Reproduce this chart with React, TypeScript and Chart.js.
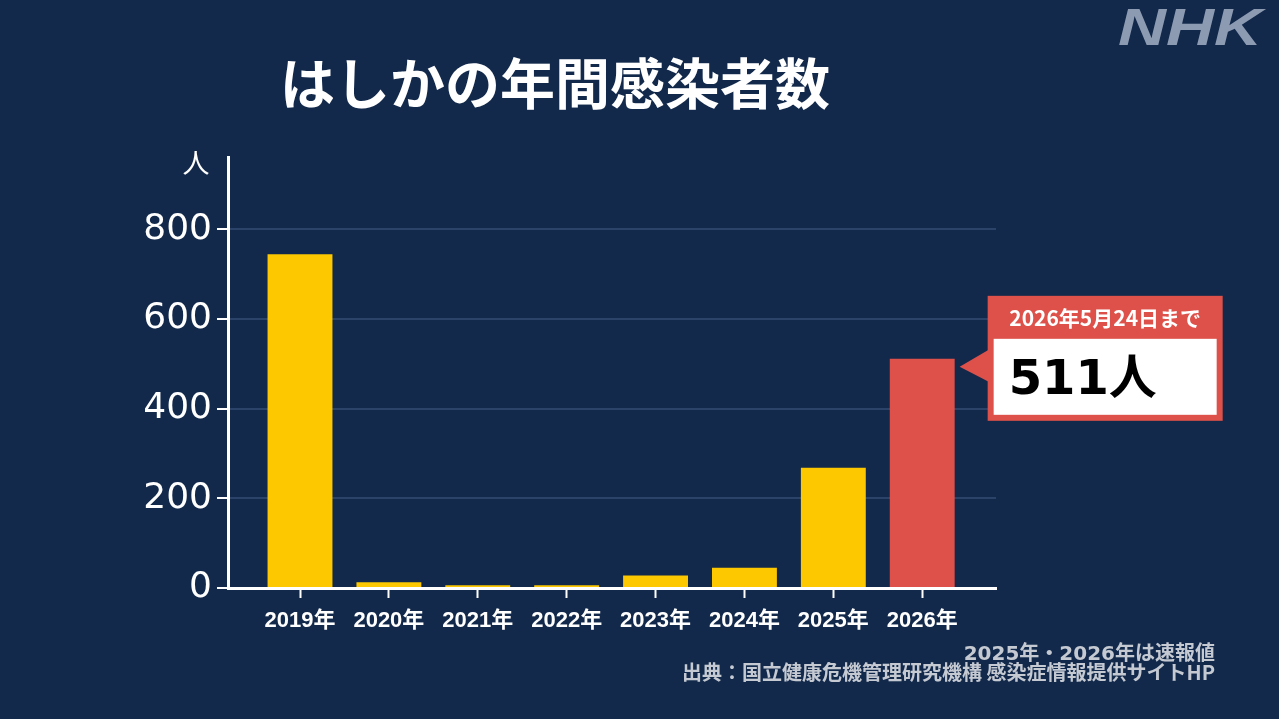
import React, { useEffect, useRef } from 'react';
import { Chart, registerables } from 'chart.js';

Chart.register(...registerables);

// ---- data ----
const categories = ['2019年', '2020年', '2021年', '2022年', '2023年', '2024年', '2025年', '2026年'];
const cases = [744, 13, 6, 6, 28, 45, 268, 511];
const yTickValues = [0, 200, 400, 600, 800];
const titleText = 'はしかの年間感染者数';
const unitLabel = '人';
const calloutHeader = '2026年5月24日まで';
const noteLines = ['2025年・2026年は速報値', '出典：国立健康危機管理研究機構 感染症情報提供サイトHP'];
const brandText = 'NHK';

// ---- style ----
const BG = '#12294b';
const YELLOW = '#fec800';
const RED = '#de514a';
const GRID = '#2b4368';
const W = 1279;
const H = 719;
const JP = '"Noto Sans CJK JP", sans-serif';
const NUM = '"DejaVu Sans", "Noto Sans CJK JP", sans-serif';
const LAB = '"Liberation Sans", "Noto Sans CJK JP", sans-serif';

const decorPlugin = {
  id: 'decor',
  beforeDraw(chart: any) {
    const ctx = chart.ctx;
    ctx.save();
    ctx.fillStyle = BG;
    ctx.fillRect(0, 0, chart.width, chart.height);
    ctx.restore();
  },
  afterDraw(chart: any) {
    const ctx = chart.ctx;
    const area = chart.chartArea;
    ctx.save();

    // title
    ctx.fillStyle = '#ffffff';
    ctx.font = `bold 55px ${JP}`;
    ctx.textAlign = 'left';
    ctx.textBaseline = 'middle';
    ctx.fillText(titleText, 280, 83);

    // brand
    ctx.save();
    ctx.font = 'italic bold 52px "Liberation Sans", sans-serif';
    const bw = ctx.measureText(brandText).width;
    ctx.translate(1118, 31);
    ctx.scale(144 / bw, 1);
    ctx.fillStyle = '#8d9bb2';
    ctx.textBaseline = 'middle';
    ctx.fillText(brandText, 0, 0);
    ctx.restore();

    // unit label
    ctx.fillStyle = '#ffffff';
    ctx.font = `27px ${JP}`;
    ctx.textAlign = 'center';
    ctx.textBaseline = 'middle';
    ctx.fillText(unitLabel, area.left - 32, 163);

    // notes
    ctx.fillStyle = '#c4c9d2';
    ctx.font = `bold 20px ${NUM}`;
    ctx.textAlign = 'right';
    ctx.textBaseline = 'middle';
    ctx.fillText(noteLines[0], 1215, 655);
    ctx.font = `bold 20px ${JP}`;
    ctx.fillText(noteLines[1], 1215, 672);

    // callout anchored to the last bar
    const meta = chart.getDatasetMeta(0);
    const last = meta.data[meta.data.length - 1];
    if (last) {
      const tipX = last.x + last.width / 2 + 5;
      const tipY = last.y + 8;
      const left = tipX + 28;
      const top = tipY - 71;
      const bw2 = 235;
      const bh = 125;
      ctx.fillStyle = RED;
      ctx.fillRect(left, top, bw2, bh);
      ctx.beginPath();
      ctx.moveTo(tipX, tipY);
      ctx.lineTo(left + 1, tipY - 17);
      ctx.lineTo(left + 1, tipY + 15);
      ctx.closePath();
      ctx.fill();
      ctx.fillStyle = '#ffffff';
      ctx.fillRect(left + 6, top + 43, bw2 - 12, bh - 49);
      ctx.font = `bold 21px ${JP}`;
      ctx.textAlign = 'center';
      ctx.textBaseline = 'middle';
      ctx.fillText(calloutHeader, left + bw2 / 2, top + 22);
      ctx.fillStyle = '#000000';
      ctx.font = `bold 48px ${NUM}`;
      ctx.textAlign = 'left';
      ctx.textBaseline = 'alphabetic';
      ctx.fillText(`${cases[cases.length - 1]}${unitLabel}`, left + 21, top + 98);
    }
    ctx.restore();
  },
};

export default function App() {
  const ref = useRef<HTMLCanvasElement | null>(null);

  useEffect(() => {
    document.body.style.margin = '0';
    document.body.style.background = BG;
    if (!ref.current) return;
    const chart = new Chart(ref.current, {
      type: 'bar',
      data: {
        datasets: [
          {
            data: cases.map((v, i) => ({ x: i, y: v })),
            backgroundColor: cases.map((_, i) => (i === cases.length - 1 ? RED : YELLOW)),
            borderWidth: 0,
            categoryPercentage: 1,
            barPercentage: 0.73,
          },
        ],
      },
      options: {
        responsive: false,
        animation: false,
        layout: { padding: { left: 0, top: 157, right: 283, bottom: 0 } },
        plugins: {
          legend: { display: false },
          tooltip: { enabled: false },
          title: { display: false },
        },
        scales: {
          x: {
            type: 'linear',
            offset: false,
            min: -0.81,
            max: 7.83,
            afterBuildTicks: (scale: any) => {
              scale.ticks = categories.map((_, i) => ({ value: i }));
            },
            afterFit: (scale: any) => {
              scale.height = H - 588;
            },
            ticks: {
              color: '#ffffff',
              font: { family: LAB, size: 22, weight: 'bold' },
              padding: 10,
              maxRotation: 0,
              autoSkip: false,
              callback: (v: any) => categories[Number(v)] ?? '',
            },
            grid: {
              display: true,
              offset: false,
              drawOnChartArea: false,
              drawTicks: true,
              tickLength: 10,
              tickColor: '#ffffff',
              tickWidth: 2,
            },
            border: { display: true, color: '#ffffff', width: 3 },
          },
          y: {
            min: 0,
            max: 961,
            afterBuildTicks: (scale: any) => {
              scale.ticks = yTickValues.map((v) => ({ value: v }));
            },
            afterFit: (scale: any) => {
              scale.width = 228;
            },
            ticks: {
              color: '#ffffff',
              font: { family: NUM, size: 36 },
              padding: 5,
            },
            grid: {
              color: GRID,
              lineWidth: 2,
              drawTicks: true,
              tickLength: 11,
              tickColor: '#ffffff',
              tickWidth: 2,
            },
            border: { display: true, color: '#ffffff', width: 3 },
          },
        },
      },
      plugins: [decorPlugin],
    } as any);
    return () => chart.destroy();
  }, []);

  return (
    <div style={{ width: W, height: H, background: BG }}>
      <canvas ref={ref} width={W} height={H} style={{ display: 'block', width: W, height: H }} />
    </div>
  );
}
